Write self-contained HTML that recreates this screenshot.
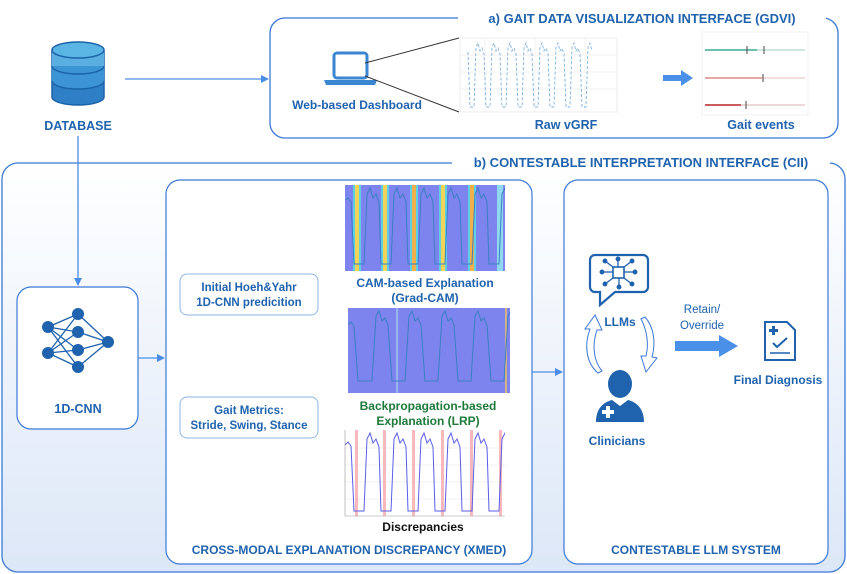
<!DOCTYPE html>
<html><head><meta charset="utf-8"><style>
html,body{margin:0;padding:0;background:#fff}
svg{display:block}
text{font-family:"Liberation Sans",Arial,sans-serif;font-weight:bold;fill:#1f62ae}
</style></head><body>
<svg width="847" height="574" viewBox="0 0 847 574" xmlns="http://www.w3.org/2000/svg">
<defs>
<linearGradient id="g" x1="0" y1="0" x2="0" y2="1">
<stop offset="0" stop-color="#ffffff"/><stop offset="1" stop-color="#dce7f7"/>
</linearGradient>
<marker id="ah" markerWidth="8" markerHeight="8" refX="7" refY="4" orient="auto" markerUnits="userSpaceOnUse">
<path d="M0,0 L8,4 L0,8 Z" fill="#4a8de6"/></marker>
<clipPath id="c1"><rect x="345" y="185" width="160" height="86"/></clipPath>
<clipPath id="c2"><rect x="348" y="308" width="162" height="85"/></clipPath>
<clipPath id="c3"><rect x="345" y="430" width="160" height="86"/></clipPath>
<clipPath id="c4"><rect x="460" y="38" width="157" height="74"/></clipPath>
</defs>

<!-- GDVI box -->
<rect x="270" y="18" width="568" height="120" rx="15" fill="#fff" stroke="#3b78d8" stroke-width="1.3"/>
<rect x="458" y="10" width="368" height="16" fill="#fff"/>
<text x="642" y="23" font-size="13" text-anchor="middle">a) GAIT DATA VISUALIZATION INTERFACE (GDVI)</text>

<!-- Database -->
<g>
<path d="M52,50 v47 a26,8 0 0 0 52,0 v-47" fill="#2f7fc7" stroke="#1b63a8" stroke-width="1.5"/>
<path d="M52,50 v16 a26,8 0 0 0 52,0 v-16" fill="#5aaee0"/>
<path d="M52,66 v15 a26,8 0 0 0 52,0 v-15" fill="#3c94d4"/>
<path d="M52,66 a26,8 0 0 0 52,0 M52,81 a26,8 0 0 0 52,0" fill="none" stroke="#1b63a8" stroke-width="1.5"/>
<ellipse cx="78" cy="50" rx="26" ry="8" fill="#5ab4e4" stroke="#1b63a8" stroke-width="1.5"/>
</g>
<text x="78" y="130" font-size="12.5" text-anchor="middle">DATABASE</text>
<line x1="125" y1="79" x2="268" y2="79" stroke="#4a8de6" stroke-width="1.3" marker-end="url(#ah)"/>

<!-- Laptop -->
<rect x="334" y="53" width="33" height="25" rx="3" fill="none" stroke="#3b86d0" stroke-width="3"/>
<path d="M324,80 h53 l-2,5 h-49 z" fill="#3b86d0"/>
<text x="357" y="109" font-size="12" text-anchor="middle">Web-based Dashboard</text>
<line x1="365" y1="63" x2="459" y2="38" stroke="#333" stroke-width="1"/>
<line x1="365" y1="76" x2="459" y2="112" stroke="#333" stroke-width="1"/>

<!-- Raw vGRF chart -->
<rect x="460" y="38" width="157" height="74" fill="#fff" stroke="#eee"/>
<g stroke="#eee" stroke-width="0.7">
<line x1="460" y1="55" x2="617" y2="55"/><line x1="460" y1="72" x2="617" y2="72"/><line x1="460" y1="89" x2="617" y2="89"/>
<line x1="485" y1="38" x2="485" y2="112"/><line x1="535" y1="38" x2="535" y2="112"/><line x1="585" y1="38" x2="585" y2="112"/>
</g>
<g clip-path="url(#c4)">
<path d="M468,52 l2,55 l4,0 l2,-60 l2,-4 l2,8 l2,-3 l2,6 l2,53 l4,0 l2,-60 l2,-4 l2,8 l2,-3 l2,6 l2,53 l4,0 l2,-60 l2,-4 l2,8 l2,-3 l2,6 l2,53 l4,0 l2,-60 l2,-4 l2,8 l2,-3 l2,6 l2,53 l4,0 l2,-60 l2,-4 l2,8 l2,-3 l2,6 l2,53 l4,0 l2,-60 l2,-4 l2,8 l2,-3 l2,6 l2,53 l4,0 l2,-60 l2,-4 l2,8 l2,-3 l2,6 l2,53 l4,0 l2,-60 l2,-4 l2,8" fill="none" stroke="#7fb0dc" stroke-width="0.9" stroke-dasharray="3,2"/>
</g>
<text x="566" y="129" font-size="12.5" text-anchor="middle">Raw vGRF</text>

<!-- arrow to gait events -->
<path d="M663,75 h18 v-5 l12,8 l-12,8 v-5 h-18 z" fill="#4a90e8"/>
<rect x="702" y="32" width="106" height="83" fill="#fff" stroke="#f0f0f0"/>
<g>
<line x1="705" y1="50" x2="805" y2="50" stroke="#cfe5df" stroke-width="2"/>
<line x1="705" y1="50" x2="757" y2="50" stroke="#6cc0b0" stroke-width="2"/>
<line x1="705" y1="78" x2="805" y2="78" stroke="#f3dede" stroke-width="2"/>
<line x1="705" y1="78" x2="762" y2="78" stroke="#e5a8a6" stroke-width="2"/>
<line x1="705" y1="105" x2="805" y2="105" stroke="#ecd8d8" stroke-width="2"/>
<line x1="705" y1="105" x2="741" y2="105" stroke="#c95c5c" stroke-width="2"/>
<line x1="747" y1="46" x2="747" y2="54" stroke="#444"/><line x1="764" y1="46" x2="764" y2="54" stroke="#444"/>
<line x1="763" y1="74" x2="763" y2="82" stroke="#444"/><line x1="746" y1="101" x2="746" y2="109" stroke="#444"/>
</g>
<text x="761" y="129" font-size="12.5" text-anchor="middle">Gait events</text>

<!-- CII big box -->
<rect x="2" y="163" width="843" height="409" rx="16" fill="url(#g)" stroke="#3b78d8" stroke-width="1.3"/>
<rect x="452" y="155" width="378" height="16" fill="#fff"/>
<text x="641" y="167" font-size="13" text-anchor="middle">b) CONTESTABLE INTERPRETATION INTERFACE (CII)</text>

<line x1="78" y1="136" x2="78" y2="285" stroke="#4a8de6" stroke-width="1.3" marker-end="url(#ah)"/>

<!-- 1D-CNN box -->
<rect x="17" y="287" width="121" height="142" rx="14" fill="#fff" stroke="#3b78d8" stroke-width="1.2"/>
<g stroke="#1f62ae" stroke-width="1.3">
<line x1="48" y1="327" x2="78" y2="314"/><line x1="48" y1="327" x2="78" y2="332"/><line x1="48" y1="327" x2="78" y2="350"/><line x1="48" y1="327" x2="78" y2="367"/>
<line x1="48" y1="353" x2="78" y2="314"/><line x1="48" y1="353" x2="78" y2="332"/><line x1="48" y1="353" x2="78" y2="350"/><line x1="48" y1="353" x2="78" y2="367"/>
<line x1="108" y1="342" x2="78" y2="314"/><line x1="108" y1="342" x2="78" y2="332"/><line x1="108" y1="342" x2="78" y2="350"/><line x1="108" y1="342" x2="78" y2="367"/>
</g>
<g fill="#1f62ae">
<circle cx="48" cy="327" r="6"/><circle cx="48" cy="353" r="6"/>
<circle cx="78" cy="314" r="6"/><circle cx="78" cy="332" r="6"/><circle cx="78" cy="350" r="6"/><circle cx="78" cy="367" r="6"/>
<circle cx="108" cy="342" r="6"/>
</g>
<text x="78" y="413" font-size="12.5" text-anchor="middle">1D-CNN</text>
<line x1="138" y1="358" x2="164" y2="358" stroke="#4a8de6" stroke-width="1.3" marker-end="url(#ah)"/>

<!-- XMED box -->
<rect x="166" y="180" width="366" height="384" rx="14" fill="#fff" stroke="#3b78d8" stroke-width="1.2"/>
<rect x="180" y="274" width="138" height="41" rx="7" fill="#fff" stroke="#8fb4ea"/>
<text x="249" y="291" font-size="11.5" text-anchor="middle">Initial Hoeh&amp;Yahr</text>
<text x="249" y="306" font-size="11.5" text-anchor="middle">1D-CNN predicition</text>
<rect x="180" y="397" width="138" height="41" rx="7" fill="#fff" stroke="#8fb4ea"/>
<text x="249" y="414" font-size="11.5" text-anchor="middle">Gait Metrics:</text>
<text x="249" y="429" font-size="11.5" text-anchor="middle">Stride, Swing, Stance</text>

<!-- CAM image -->
<rect x="345" y="185" width="160" height="86" fill="#7d84ee"/>
<g>
<rect x="353" y="185" width="8" height="86" fill="#5ed0e6"/><rect x="355" y="185" width="4" height="86" fill="#f1d35a"/>
<rect x="381" y="185" width="8" height="86" fill="#5ed0e6"/><rect x="383" y="185" width="4" height="86" fill="#f1d35a"/>
<rect x="410" y="185" width="8" height="86" fill="#5ed0e6"/><rect x="412" y="185" width="4" height="86" fill="#f1b04a"/>
<rect x="439" y="185" width="8" height="86" fill="#5ed0e6"/><rect x="441" y="185" width="4" height="86" fill="#f1d35a"/>
<rect x="468" y="185" width="8" height="86" fill="#5ed0e6"/><rect x="470" y="185" width="4" height="86" fill="#f1b04a"/>
<rect x="497" y="185" width="6" height="86" fill="#8fd8ee"/>
</g>
<g clip-path="url(#c1)">
<path d="M345,200 l3,-2 l3,4 l3,62 l10,0 l3,-70 l3,-6 l3,10 l3,-4 l3,8 l2,62 l10,0 l3,-70 l3,-6 l3,10 l3,-4 l3,8 l2,62 l10,0 l3,-70 l3,-6 l3,10 l3,-4 l3,8 l2,62 l10,0 l3,-70 l3,-6 l3,10 l3,-4 l3,8 l2,62 l10,0 l3,-70 l3,-6 l3,10 l3,-4 l3,8 l2,62 l10,0 l3,-70 l3,-6 l3,10 l3,-4 l3,8 l2,62 l6,0" fill="none" stroke="#3a7fc4" stroke-width="1"/>
</g>
<text x="425" y="287" font-size="12" text-anchor="middle">CAM-based Explanation</text>
<text x="425" y="302" font-size="12" text-anchor="middle">(Grad-CAM)</text>

<!-- LRP image -->
<rect x="348" y="308" width="162" height="85" fill="#7d84ee"/>
<line x1="397" y1="308" x2="397" y2="393" stroke="#b6e4ef" stroke-width="1"/>
<line x1="506" y1="308" x2="506" y2="393" stroke="#f1c060" stroke-width="1.5"/>
<g clip-path="url(#c2)">
<path d="M348,325 l3,-3 l3,4 l4,55 l14,0 l4,-65 l3,-5 l3,10 l3,-3 l3,7 l4,56 l13,0 l4,-65 l3,-5 l3,10 l3,-3 l3,7 l4,56 l13,0 l4,-65 l3,-5 l3,10 l3,-3 l3,7 l4,56 l13,0 l4,-65 l3,-5 l3,10 l3,-3 l3,7 l4,56 l13,0 l4,-65 l3,-5 l3,10 l3,-3 l3,7 l4,56 l6,0" fill="none" stroke="#3a7fc4" stroke-width="1"/>
</g>
<text x="428" y="410" font-size="12" text-anchor="middle" style="fill:#1e7a3a">Backpropagation-based</text>
<text x="428" y="425" font-size="12" text-anchor="middle" style="fill:#1e7a3a">Explanation (LRP)</text>

<!-- Discrepancies -->
<rect x="345" y="430" width="160" height="86" fill="#fff"/>
<g stroke="#eee" stroke-width="0.7"><line x1="345" y1="448" x2="505" y2="448"/><line x1="345" y1="465" x2="505" y2="465"/><line x1="345" y1="482" x2="505" y2="482"/><line x1="345" y1="499" x2="505" y2="499"/></g>
<g fill="#f8b8bc">
<rect x="355" y="430" width="3" height="86"/><rect x="383" y="430" width="3" height="86"/><rect x="412" y="430" width="3" height="86"/><rect x="441" y="430" width="3" height="86"/><rect x="470" y="430" width="3" height="86"/><rect x="499" y="430" width="3" height="86"/>
</g>
<g clip-path="url(#c3)">
<path d="M345,445 l3,-3 l3,4 l3,65 l10,0 l3,-72 l3,-6 l3,10 l3,-4 l3,8 l2,64 l10,0 l3,-72 l3,-6 l3,10 l3,-4 l3,8 l2,64 l10,0 l3,-72 l3,-6 l3,10 l3,-4 l3,8 l2,64 l10,0 l3,-72 l3,-6 l3,10 l3,-4 l3,8 l2,64 l10,0 l3,-72 l3,-6 l3,10 l3,-4 l3,8 l2,64 l10,0 l3,-72 l3,-6 l3,10 l3,-4 l3,8 l2,64 l6,0" fill="none" stroke="#5a5ee8" stroke-width="1"/>
</g>
<line x1="345" y1="430" x2="345" y2="516" stroke="#999" stroke-width="0.6"/>
<line x1="345" y1="516" x2="505" y2="516" stroke="#999" stroke-width="0.6"/>
<text x="423" y="531" font-size="12" text-anchor="middle" style="fill:#111">Discrepancies</text>
<text x="349" y="554" font-size="12" text-anchor="middle">CROSS-MODAL EXPLANATION DISCREPANCY (XMED)</text>

<line x1="532" y1="372" x2="562" y2="372" stroke="#4a8de6" stroke-width="1.3" marker-end="url(#ah)"/>

<!-- LLM box -->
<rect x="564" y="180" width="264" height="384" rx="14" fill="#fff" stroke="#3b78d8" stroke-width="1.2"/>
<path d="M595,255 h48 a5,5 0 0 1 5,5 v27 a5,5 0 0 1 -5,5 h-28 l-15,13 v-13 h-5 a5,5 0 0 1 -5,-5 v-27 a5,5 0 0 1 5,-5 z" fill="#fff" stroke="#1f62ae" stroke-width="2.2"/>
<rect x="613" y="267" width="11" height="11" fill="none" stroke="#1f62ae" stroke-width="1.6"/>
<g stroke="#1f62ae" stroke-width="1.3" fill="#1f62ae">
<line x1="613" y1="267" x2="605" y2="261"/><circle cx="605" cy="261" r="1.8"/>
<line x1="624" y1="267" x2="632" y2="261"/><circle cx="632" cy="261" r="1.8"/>
<line x1="613" y1="278" x2="605" y2="284"/><circle cx="605" cy="284" r="1.8"/>
<line x1="624" y1="278" x2="632" y2="284"/><circle cx="632" cy="284" r="1.8"/>
<line x1="613" y1="272" x2="602" y2="272"/><circle cx="602" cy="272" r="1.8"/>
<line x1="624" y1="272" x2="635" y2="272"/><circle cx="635" cy="272" r="1.8"/>
<line x1="618" y1="267" x2="618" y2="259"/><circle cx="618" cy="259" r="1.8"/>
<line x1="619" y1="278" x2="619" y2="287"/><circle cx="619" cy="287" r="1.8"/>
</g>
<text x="620" y="326" font-size="12" text-anchor="middle">LLMs</text>
<path d="M598,373 c-12,-10 -14,-28 -8,-44 l-5,0 l10,-14 l7,15 l-5,0 c-5,14 -4,30 5,41 z" fill="#fff" stroke="#3b78d8" stroke-width="1"/>
<path d="M645,317 c9,10 11,26 7,40 l5,1 l-11,14 l-5,-16 l5,0 c3,-12 1,-26 -5,-37 z" fill="#fff" stroke="#3b78d8" stroke-width="1"/>
<ellipse cx="620" cy="384" rx="12" ry="14" fill="#1f62ae"/>
<path d="M596,422 c0,-14 8,-20 16,-22 l8,6 l8,-6 c8,2 16,8 16,22 z" fill="#1f62ae"/>
<path d="M602,410 h4 v-4 h4 v4 h4 v4 h-4 v4 h-4 v-4 h-4 z" fill="#fff"/>
<text x="617" y="445" font-size="12" text-anchor="middle">Clinicians</text>
<text x="702" y="313" font-size="11.5" text-anchor="middle" style="font-weight:normal">Retain/</text>
<text x="702" y="329" font-size="11.5" text-anchor="middle" style="font-weight:normal">Override</text>
<path d="M675,341 h44 v-6 l19,11 l-19,11 v-6 h-44 z" fill="#4a90e8"/>
<path d="M765,322 h22 l8,8 v30 h-30 z" fill="#fff" stroke="#1f62ae" stroke-width="2"/>
<path d="M769,329 h3 v-3 h3 v3 h3 v3 h-3 v3 h-3 v-3 h-3 z" fill="#1f62ae"/>
<path d="M773,343 l4,4 l10,-9" fill="none" stroke="#1f62ae" stroke-width="2"/>
<line x1="770" y1="353" x2="790" y2="353" stroke="#1f62ae" stroke-width="1.5"/>
<text x="778" y="384" font-size="12" text-anchor="middle">Final Diagnosis</text>
<text x="696" y="554" font-size="12" text-anchor="middle">CONTESTABLE LLM SYSTEM</text>
</svg>
</body></html>
